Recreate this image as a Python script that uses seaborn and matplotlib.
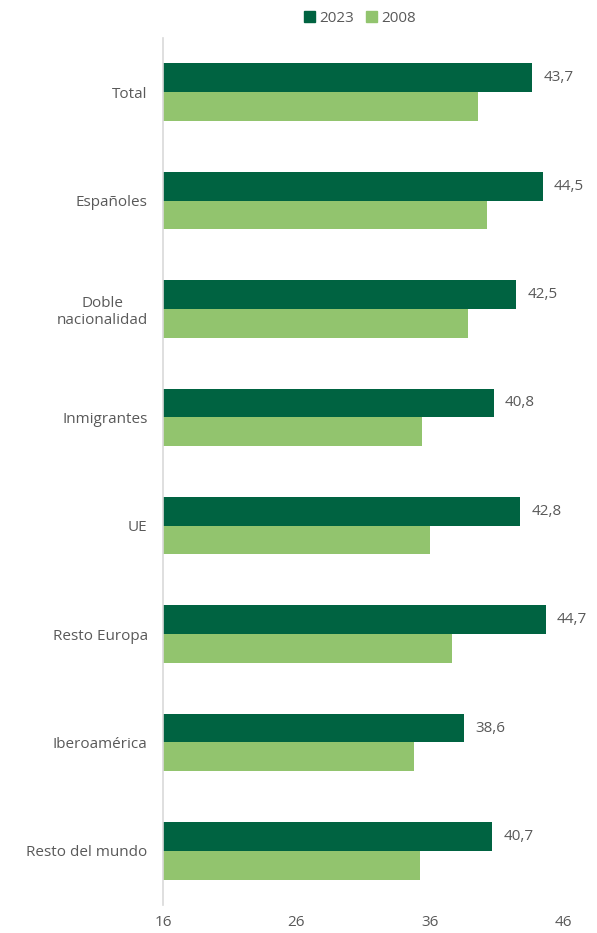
import matplotlib
matplotlib.use("Agg")
import matplotlib.pyplot as plt
import pandas as pd
import seaborn as sns

categories = ["Total", "Españoles", "Doble\nnacionalidad", "Inmigrantes", "UE",
              "Resto Europa", "Iberoamérica", "Resto del mundo"]
values_2023 = [43.7, 44.5, 42.5, 40.8, 42.8, 44.7, 38.6, 40.7]
values_2008 = [39.6, 40.3, 38.9, 35.4, 36.0, 37.7, 34.8, 35.3]
years = ["2023", "2008"]
colors = ["#006341", "#92C46E"]
x_ticks = [16, 26, 36, 46]

df = pd.DataFrame({
    "cat": categories * 2,
    "year": [years[0]] * len(categories) + [years[1]] * len(categories),
    "value": values_2023 + values_2008,
})

sns.set_theme(style="white")
plt.rcParams["font.family"] = ["Open Sans", "DejaVu Sans"]
text_color = "#595959"

fig = plt.figure(figsize=(5.97, 9.33), dpi=100)
ax = fig.add_axes([0.273, 1 - 905 / 933, 0.943 - 0.273, (905 - 38) / 933])

sns.barplot(data=df, y="cat", x="value", hue="year", hue_order=years,
            palette=colors, saturation=1, orient="h", width=0.53, ax=ax,
            legend=False, edgecolor="none", linewidth=0)

ax.set_xlim(16, 46)
ax.set_ylim(len(categories) - 0.5, -0.5)
ax.set_xticks(x_ticks)
ax.set_xticklabels([str(t) for t in x_ticks])
ax.set_xlabel("")
ax.set_ylabel("")
ax.tick_params(axis="both", length=0, labelsize=11, colors=text_color)
ax.tick_params(axis="x", pad=7)
ax.tick_params(axis="y", pad=11)
for lbl in ax.get_yticklabels():
    lbl.set_multialignment("center")

for side in ["top", "right", "bottom"]:
    ax.spines[side].set_visible(False)
ax.spines["left"].set_color("#d9d9d9")
ax.spines["left"].set_linewidth(1.2)

# value labels on the 2023 bars
bar_h = 0.53 / 2
for i, v in enumerate(values_2023):
    ax.annotate(f"{v:.1f}".replace(".", ","), xy=(v, i - bar_h / 2),
                xytext=(8, 0), textcoords="offset points",
                va="center", ha="left", fontsize=11, color=text_color)

handles = [plt.Rectangle((0, 0), 1, 1, color=c) for c in colors]
fig.legend(handles, years, loc="center", bbox_to_anchor=(360 / 597, 1 - 18 / 933),
           ncol=2, frameon=False, fontsize=11, handlelength=0.7, handleheight=0.7,
           handletextpad=0.3, columnspacing=0.8, labelcolor=text_color)

fig.savefig("out.png", dpi=100)
